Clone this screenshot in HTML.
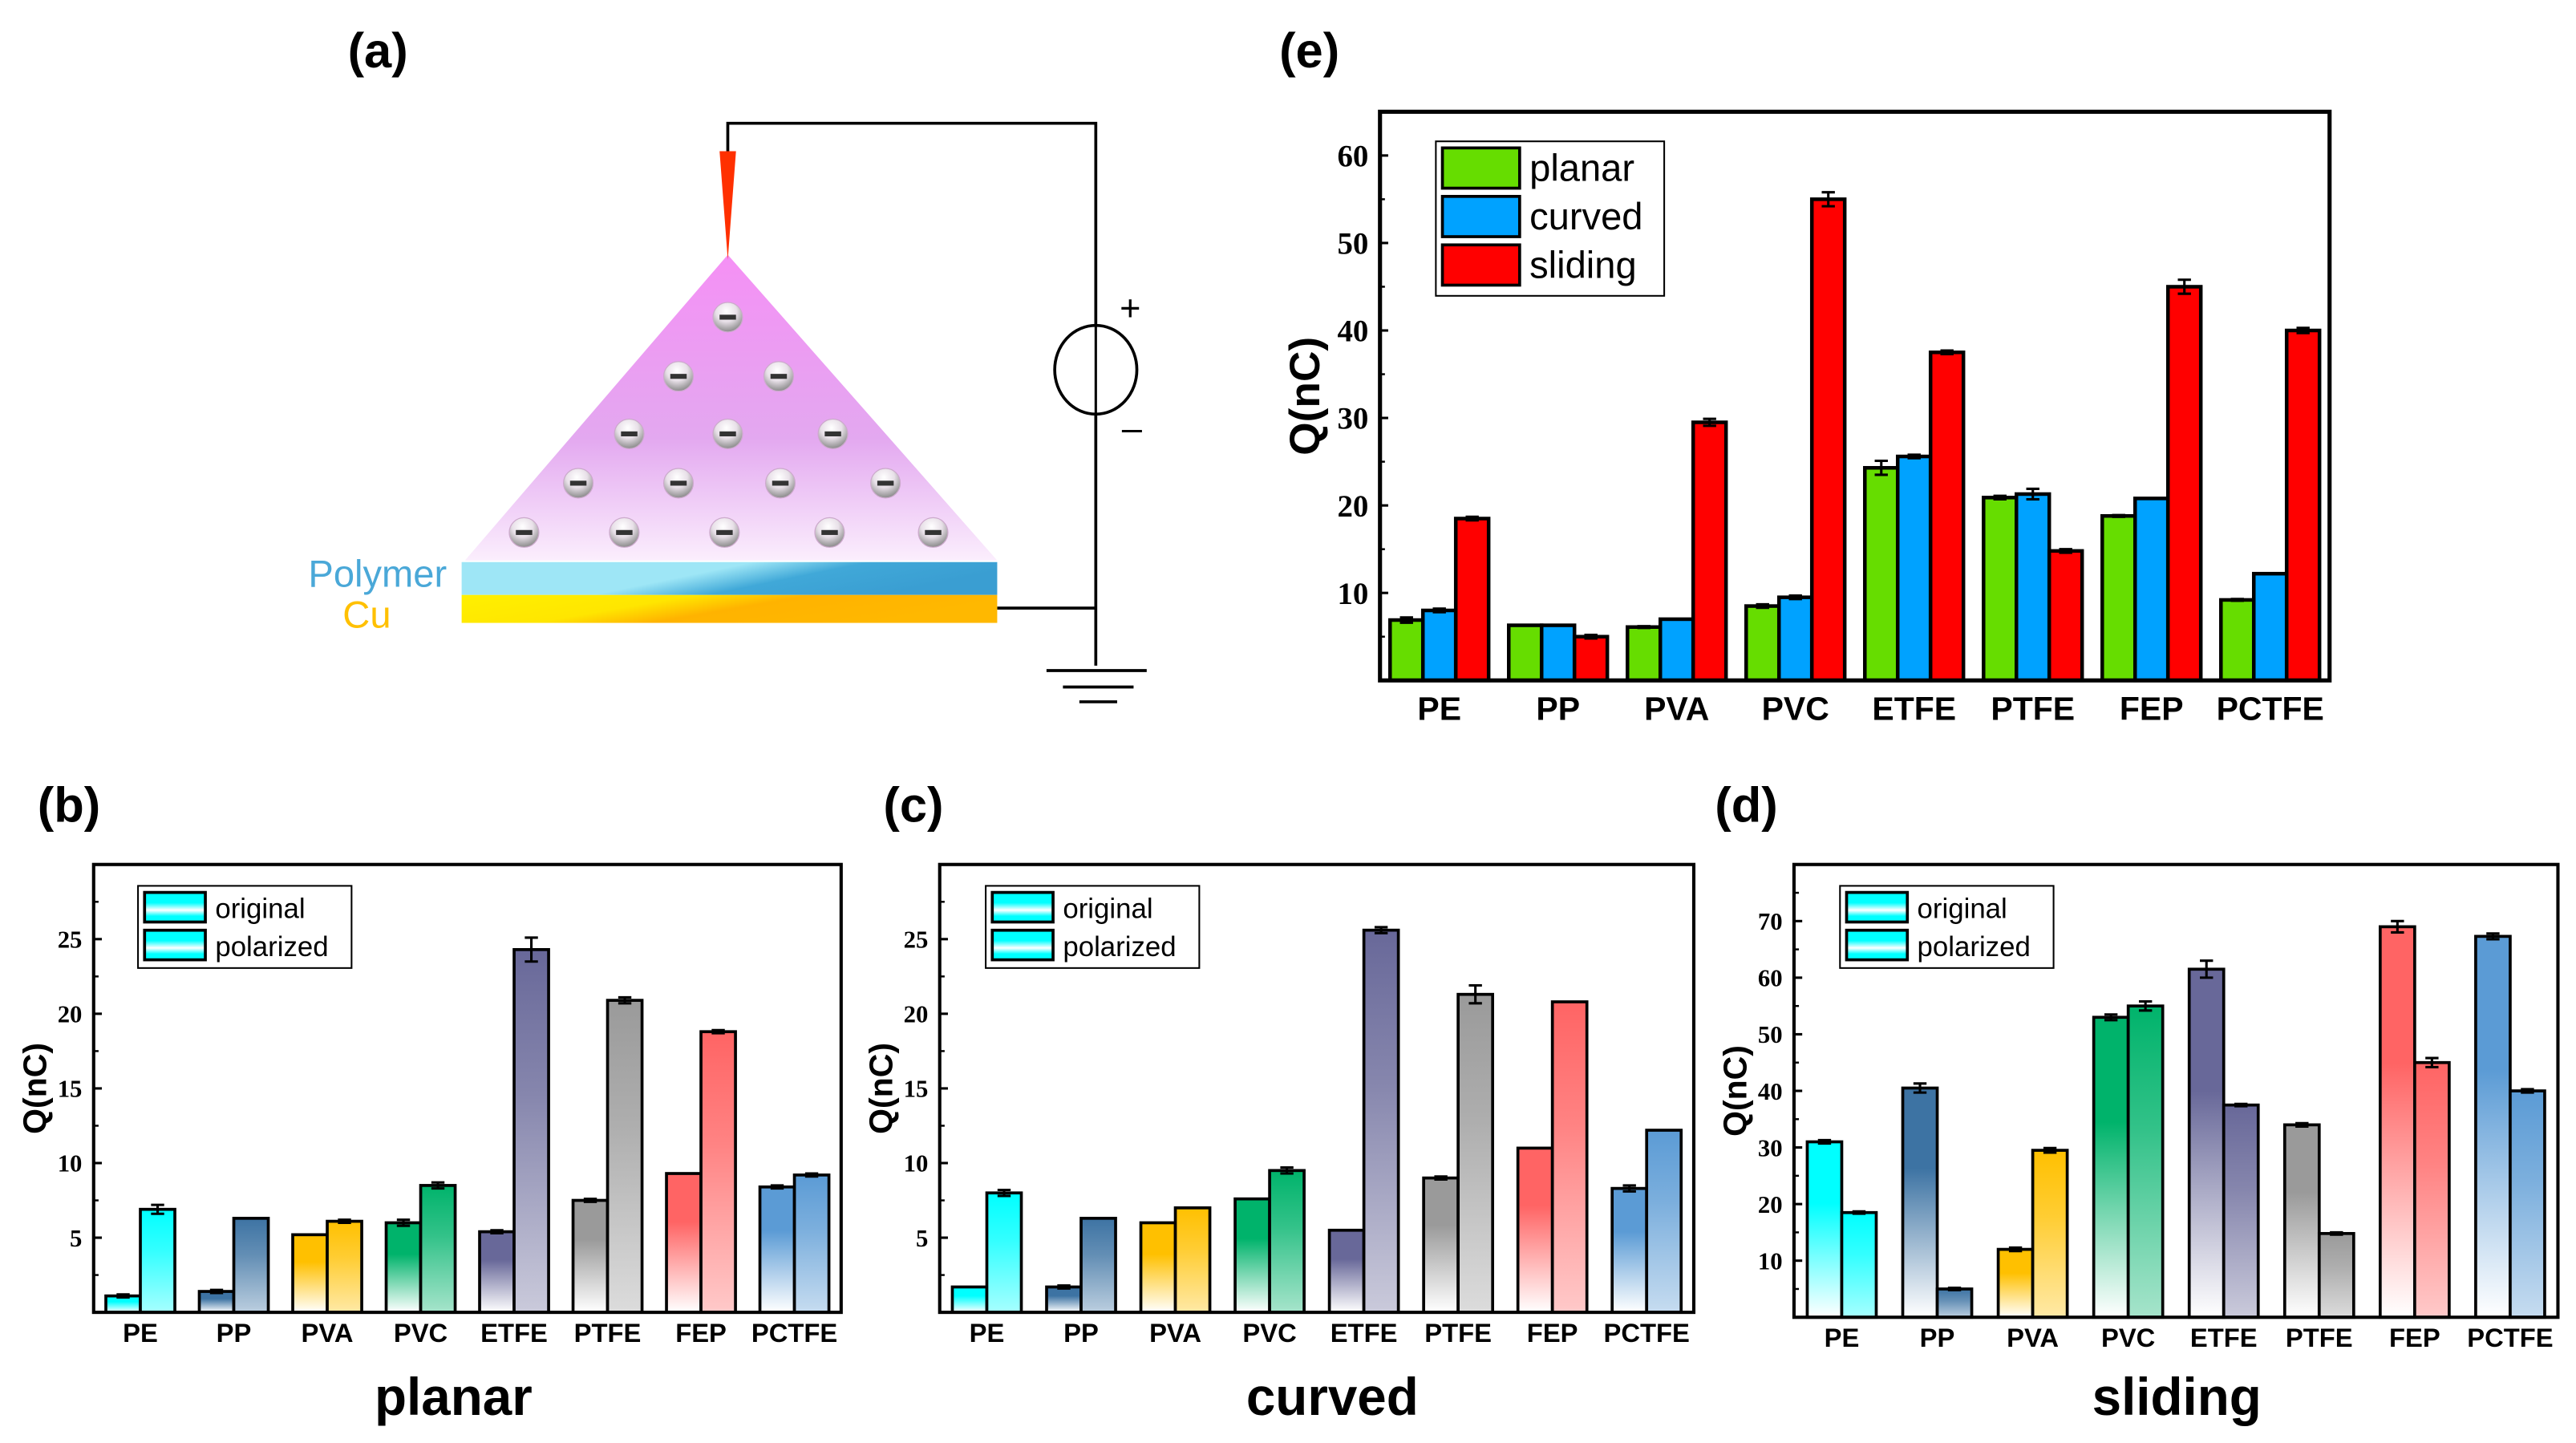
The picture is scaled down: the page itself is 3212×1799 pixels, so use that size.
<!DOCTYPE html>
<html><head><meta charset="utf-8"><style>
html,body{margin:0;padding:0;background:#fff;}
svg{display:block;}
</style></head><body>
<svg id="fig" xmlns="http://www.w3.org/2000/svg" width="3212" height="1799" viewBox="0 0 1568 878" preserveAspectRatio="none">
<defs>
<linearGradient id="tri" x1="0" y1="0" x2="0" y2="1"><stop offset="0" stop-color="#f590f5"/><stop offset="0.6" stop-color="#e3a8f0"/><stop offset="1" stop-color="#fbeefd"/></linearGradient>
<linearGradient id="poly" x1="0" y1="0" x2="1" y2="0.3"><stop offset="0" stop-color="#9ee6f6"/><stop offset="0.5" stop-color="#9ee6f6"/><stop offset="0.7" stop-color="#40a8d8"/><stop offset="1" stop-color="#3a9ed2"/></linearGradient>
<linearGradient id="cu" x1="0" y1="0" x2="1" y2="0.3"><stop offset="0" stop-color="#fff000"/><stop offset="0.4" stop-color="#ffe600"/><stop offset="0.6" stop-color="#ffb300"/><stop offset="1" stop-color="#ffb800"/></linearGradient>
<radialGradient id="ion" cx="0.45" cy="0.3" r="0.7"><stop offset="0" stop-color="#fff"/><stop offset="0.5" stop-color="#e8e0e8"/><stop offset="1" stop-color="#8a8a8a"/></radialGradient>
</defs>
<g id="panel-a">
<text x="230" y="41" font-family="Liberation Sans, sans-serif" font-weight="bold" font-size="30" text-anchor="middle">(a)</text>
<polygon points="443,155 283,341 607,341" fill="url(#tri)"/>
<polygon points="438,92 448,92 443,158" fill="#ff3000"/>
<polyline points="443,92 443,75 667,75 667,405" fill="none" stroke="#000" stroke-width="1.8"/>
<line x1="607" y1="370" x2="667" y2="370" stroke="#000" stroke-width="1.8"/>
<ellipse cx="667" cy="225" rx="25" ry="27" fill="#fff" stroke="#000" stroke-width="1.8"/>
<line x1="667" y1="198" x2="667" y2="252" stroke="#000" stroke-width="1.5"/>
<text x="688" y="195" font-family="Liberation Sans, sans-serif" font-size="22" text-anchor="middle">+</text>
<text x="689" y="268" font-family="Liberation Sans, sans-serif" font-size="22" text-anchor="middle">–</text>
<line x1="637" y1="408" x2="698" y2="408" stroke="#000" stroke-width="1.8"/>
<line x1="647" y1="418" x2="690" y2="418" stroke="#000" stroke-width="1.8"/>
<line x1="657" y1="427" x2="680" y2="427" stroke="#000" stroke-width="1.8"/>
<rect x="281" y="342" width="326" height="20" fill="url(#poly)"/>
<rect x="281" y="362" width="326" height="17" fill="url(#cu)"/>
<text x="272" y="357" font-family="Liberation Sans, sans-serif" font-size="23" fill="#4aa8d8" text-anchor="end">Polymer</text>
<text x="238" y="382" font-family="Liberation Sans, sans-serif" font-size="23" fill="#ffc000" text-anchor="end">Cu</text>
<g id="ions"></g>
</g>
<g id="charts"></g>
<text x="797" y="41" font-family="Liberation Sans, sans-serif" font-weight="bold" font-size="30" text-anchor="middle">(e)</text>
<text x="42" y="500" font-family="Liberation Sans, sans-serif" font-weight="bold" font-size="30" text-anchor="middle">(b)</text>
<text x="556" y="500" font-family="Liberation Sans, sans-serif" font-weight="bold" font-size="30" text-anchor="middle">(c)</text>
<text x="1063" y="500" font-family="Liberation Sans, sans-serif" font-weight="bold" font-size="30" text-anchor="middle">(d)</text>
<text x="276" y="861" font-family="Liberation Sans, sans-serif" font-weight="bold" font-size="32" text-anchor="middle">planar</text>
<text x="811" y="861" font-family="Liberation Sans, sans-serif" font-weight="bold" font-size="32" text-anchor="middle">curved</text>
<text x="1325" y="861" font-family="Liberation Sans, sans-serif" font-weight="bold" font-size="32" text-anchor="middle">sliding</text>
</svg>
<script>
const categories = ["PE","PP","PVA","PVC","ETFE","PTFE","FEP","PCTFE"];
const planarOriginal = [1.1,1.4,5.2,6.0,5.4,7.5,9.3,8.4];
const planarPolarized = [6.9,6.3,6.1,8.5,24.3,20.9,18.8,9.2];
const planarErrOrig = [0.1,0.1,0,0.2,0.1,0.1,0,0.1];
const planarErrPol = [0.3,0,0.1,0.2,0.8,0.2,0.1,0.1];
const curvedOriginal = [1.7,1.7,6.0,7.6,5.5,9.0,11.0,8.3];
const curvedPolarized = [8.0,6.3,7.0,9.5,25.6,21.3,20.8,12.2];
const curvedErrOrig = [0,0.1,0,0,0,0.1,0,0.2];
const curvedErrPol = [0.2,0,0,0.2,0.2,0.6,0,0];
const slidingOriginal = [31.0,40.5,12.0,53.0,61.5,34.0,69.0,67.3];
const slidingPolarized = [18.5,5.0,29.5,55.0,37.5,14.8,45.0,40.0];
const slidingErrOrig = [0.3,0.8,0.3,0.5,1.5,0.3,1.0,0.5];
const slidingErrPol = [0.2,0.2,0.4,0.8,0.2,0.2,0.8,0.3];
const eTicks = [10,20,30,40,50,60];
const bcTicks = [5,10,15,20,25];
const dTicks = [10,20,30,40,50,60,70];
const eSeriesNames = ["planar","curved","sliding"];

const NS="http://www.w3.org/2000/svg";
const matColors=["#00ffff","#3d73a3","#ffc000","#00b36b","#686899","#9a9a9a","#ff6464","#5b9bd5"];
function mk(tag,attrs,parent){const e=document.createElementNS(NS,tag);for(const k in attrs)e.setAttribute(k,attrs[k]);parent.appendChild(e);return e;}
function tint(hex,f){const n=parseInt(hex.slice(1),16);let r=n>>16,g=(n>>8)&255,b=n&255;r=Math.round(r+(255-r)*f);g=Math.round(g+(255-g)*f);b=Math.round(b+(255-b)*f);return "rgb("+r+","+g+","+b+")";}
const defs=document.querySelector("defs");
matColors.forEach((c,i)=>{
 const g1=mk("linearGradient",{id:"go"+i,x1:0,y1:0,x2:0,y2:1},defs);
 mk("stop",{offset:0,"stop-color":c},g1);mk("stop",{offset:0.35,"stop-color":c},g1);mk("stop",{offset:1,"stop-color":"#ffffff"},g1);
 const g2=mk("linearGradient",{id:"gp"+i,x1:0,y1:0,x2:0,y2:1},defs);
 mk("stop",{offset:0,"stop-color":c},g2);mk("stop",{offset:0.4,"stop-color":tint(c,0.2)},g2);mk("stop",{offset:1,"stop-color":tint(c,0.65)},g2);
});
const gl=mk("linearGradient",{id:"legG",x1:0,y1:0,x2:0,y2:1},defs);
mk("stop",{offset:0,"stop-color":"#00ffff"},gl);mk("stop",{offset:0.35,"stop-color":"#00ffff"},gl);mk("stop",{offset:0.6,"stop-color":"#ffffff"},gl);mk("stop",{offset:0.8,"stop-color":"#00ffff"},gl);mk("stop",{offset:1,"stop-color":"#00ffff"},gl);

// ions
const ionG=document.getElementById("ions");
[[443,193],[413,229],[474,229],[383,264],[443,264],[507,264],[352,294],[413,294],[475,294],[539,294],[319,324],[380,324],[441,324],[505,324],[568,324]].forEach(p=>{
 const c=mk("circle",{cx:p[0],cy:p[1],r:9,fill:"url(#ion)",stroke:"#ccaacc","stroke-width":0.6},ionG);
 
 
 mk("rect",{x:p[0]-5,y:p[1]-1.5,width:10,height:3,fill:"#333"},ionG);
});

const root=document.getElementById("charts");
function chart(o){
 const g=mk("g",{},root);
 
 
 const {x0,x1,y0,y1,ymax}=o;
 const ys=v=>y1-(v/ymax)*(y1-y0);
 const gw=(x1-x0)/categories.length;
 const xs=i=>x0+gw*(i+0.5);
 // ticks
 o.ticks.forEach(t=>{
  const y=ys(t);
  mk("line",{x1:x0,y1:y,x2:x0+5,y2:y,stroke:"#000","stroke-width":1.5},g);
  const tx=mk("text",{x:x0-7,y:y+o.tf*0.35,"font-family":"Liberation Serif, serif","font-weight":"bold","font-size":o.tf,"text-anchor":"end"},g);
  tx.textContent=t;
  
  
 });
 // minor ticks
 for(let k=0;k<o.ticks.length+1;k++){const t=(o.ticks[0]/2)+k*(o.ticks[1]-o.ticks[0]);if(t<ymax){const y=ys(t);mk("line",{x1:x0,y1:y,x2:x0+3,y2:y,stroke:"#000","stroke-width":1.2},g);}}
 const n=o.series.length;
 const bw=o.bw;
 categories.forEach((cat,i)=>{
  o.series.forEach((s,j)=>{
   const v=s[i];const bx=xs(i)-n*bw/2+j*bw;const by=ys(v);
   const r=mk("rect",{x:bx,y:by,width:bw,height:y1-by,fill:o.fill(i,j),stroke:"#000","stroke-width":o.sw},g);
   
   
   const e=o.errs[j][i];
   if(e>0){const cx=bx+bw/2;
    mk("line",{x1:cx,y1:ys(v+e),x2:cx,y2:ys(v-e),stroke:"#000","stroke-width":1.5},g);
    mk("line",{x1:cx-4,y1:ys(v+e),x2:cx+4,y2:ys(v+e),stroke:"#000","stroke-width":1.5},g);
    mk("line",{x1:cx-4,y1:ys(v-e),x2:cx+4,y2:ys(v-e),stroke:"#000","stroke-width":1.5},g);}
  });
  const lt=mk("text",{x:xs(i),y:o.ly,"font-family":"Liberation Sans, sans-serif","font-weight":"bold","font-size":o.lf,"text-anchor":"middle"},g);
  lt.textContent=cat;
  
  
 });
 const fr=mk("rect",{x:x0,y:y0,width:x1-x0,height:y1-y0,fill:"none",stroke:"#000","stroke-width":o.fw},g);
 
 
 const at=mk("text",{x:0,y:0,transform:"translate("+o.ax+","+((y0+y1)/2)+") rotate(-90)","font-family":"Liberation Sans, sans-serif","font-weight":"bold","font-size":o.af,"text-anchor":"middle"},g);
 at.textContent="Q(nC)";
 
 
 // legend
 const L=o.leg;
 const lb=mk("rect",{x:L.x,y:L.y,width:L.w,height:L.h,fill:"#fff",stroke:"#000","stroke-width":1},g);
 
 
 L.items.forEach((it,k)=>{
  const yy=L.y+4+k*L.rh;
  mk("rect",{x:L.x+4,y:yy,width:L.sw,height:L.rh-5,fill:it.fill,stroke:"#000","stroke-width":1.8},g);
  const t=mk("text",{x:L.x+L.sw+10,y:yy+L.rh*0.68,"font-family":"Liberation Sans, sans-serif","font-size":L.fs},g);
  t.textContent=it.label;
  
  
 });
}
const eCols=["#66dd00","#00a2ff","#ff0000"];
chart({name:"chart-e",x0:840,x1:1418,y0:68,y1:414,ymax:65,ticks:eTicks,tf:19,bw:20,sw:2.2,fw:2.5,ly:438,lf:20,ax:803,af:26,
 series:[planarPolarized,curvedPolarized,slidingPolarized],errs:[planarErrPol,curvedErrPol,slidingErrPol],snames:eSeriesNames,
 fill:(i,j)=>eCols[j],
 leg:{x:874,y:86,w:139,h:94,sw:47,rh:29.5,fs:23,items:[{label:"planar",fill:eCols[0]},{label:"curved",fill:eCols[1]},{label:"sliding",fill:eCols[2]}]}});
const subCfg=[
 {name:"chart-b-planar",x0:57,x1:512,y1:798.5,ymax:30,ticks:bcTicks,s:[planarOriginal,planarPolarized],e:[planarErrOrig,planarErrPol],leg:84},
 {name:"chart-c-curved",x0:572,x1:1031,y1:798.5,ymax:30,ticks:bcTicks,s:[curvedOriginal,curvedPolarized],e:[curvedErrOrig,curvedErrPol],leg:600},
 {name:"chart-d-sliding",x0:1092,x1:1557,y1:801.5,ymax:80,ticks:dTicks,s:[slidingOriginal,slidingPolarized],e:[slidingErrOrig,slidingErrPol],leg:1120}];
subCfg.forEach(c=>{
 chart({name:c.name,x0:c.x0,x1:c.x1,y0:526,y1:c.y1,ymax:c.ymax,ticks:c.ticks,tf:15,bw:21,sw:1.8,fw:2,ly:c.y1+18,lf:16,ax:c.x0-29,af:20,
  series:c.s,errs:c.e,snames:["original","polarized"],fill:(i,j)=>"url(#"+(j?"gp":"go")+i+")",
  leg:{x:c.leg,y:539,w:130,h:50,sw:37,rh:23,fs:17,items:[{label:"original",fill:"url(#legG)"},{label:"polarized",fill:"url(#legG)"}]}});
});
</script>
</body></html>
